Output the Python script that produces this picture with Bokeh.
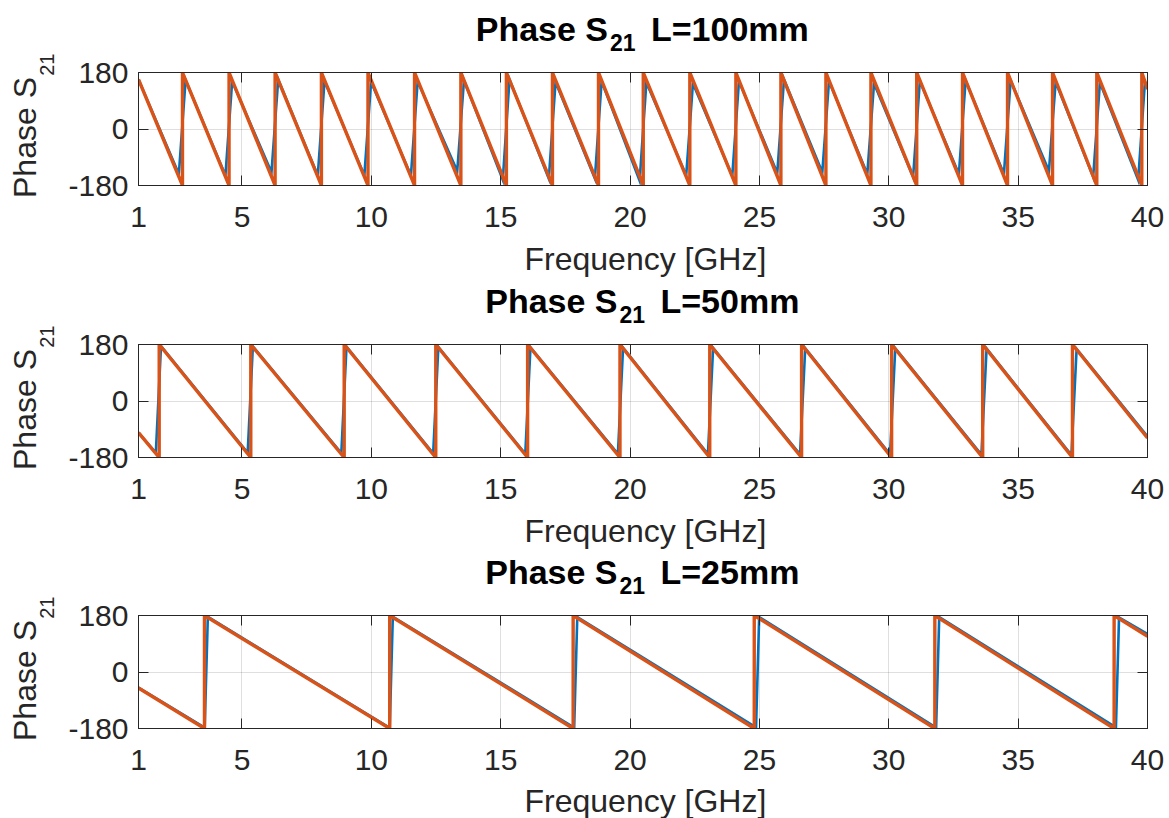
import math
from bokeh.plotting import figure
from bokeh.layouts import column, row
from bokeh.models import LinearAxis, FixedTicker, Range1d
from bokeh.core.properties import value
from bokeh.embed import file_html
from bokeh.resources import INLINE

# ---------------- data ----------------
freq_min, freq_max = 1, 40
x_ticks = [1, 5, 10, 15, 20, 25, 30, 35, 40]
x_tick_labels = ["1", "5", "10", "15", "20", "25", "30", "35", "40"]
y_ticks = [-180, 0, 180]
y_tick_labels = ["-180", "0", "180"]
x_label = "Frequency [GHz]"
y_label_main, y_label_sub = "Phase S", "21"
title_main, title_sub = "Phase S", "21"
line_lengths = ["L=100mm", "L=50mm", "L=25mm"]

# L = 100 mm
orange_start_100 = 158
orange_wraps_100 = [2.70, 4.50, 6.28, 8.07, 9.87, 11.67, 13.46, 15.22, 17.00, 18.78, 20.51,
                    22.31, 24.09, 25.83, 27.57, 29.31, 31.08, 32.85, 34.59, 36.33, 38.04, 39.78]
orange_end_100 = 127
blue_start_100 = 158
blue_jumps_100 = [2.69, 4.49, 6.27, 8.06, 9.86, 11.66, 13.45, 15.21, 16.99, 18.77, 20.50,
                  22.30, 24.08, 25.82, 27.56, 29.30, 31.07, 32.84, 34.58, 36.32, 38.03, 39.77]
blue_step_100 = 0.26
blue_lo_100 = [-143, -148, -138, -148, -148, -148, -134, -162, -158, -158, -165,
               -148, -150, -140, -138, -143, -153, -143, -143, -134, -153, -162]
blue_hi_100 = [156, 152, 158, 153, 150, 152, 155, 158, 150, 152, 148,
               145, 153, 158, 153, 145, 153, 155, 155, 150, 148, 150]
blue_end_100 = 130

# L = 50 mm
orange_start_50 = -101
orange_wraps_50 = [1.80, 5.34, 8.95, 12.49, 16.04, 19.61, 23.08, 26.63, 30.11, 33.63, 37.10]
orange_end_50 = -118
blue_start_50 = -101
blue_jumps_50 = [1.77, 5.32, 8.94, 12.49, 16.05, 19.63, 23.11, 26.67, 30.15, 33.68, 37.16]
blue_step_50 = 0.20
blue_lo_50 = [-165, -165, -166, -167, -168, -168, -169, -170, -170, -171, -172]
blue_hi_50 = [175, 174, 173, 172, 171, 170, 169, 168, 168, 167, 166]
blue_end_50 = -113

# L = 25 mm
orange_start_25 = -51
orange_wraps_25 = [3.55, 10.71, 17.80, 24.80, 31.78, 38.71]
orange_end_25 = 114
blue_start_25 = -50
blue_jumps_25 = [3.62, 10.77, 17.90, 24.93, 31.89, 38.84]
blue_step_25 = 0.12
blue_lo_25 = [-177, -178, -177, -176, -177, -176]
blue_hi_25 = [176, 176, 175, 175, 175, 174]
blue_end_25 = 121

# ---------------- styling / layout ----------------
FONT = "Liberation Sans"
AX = "#262626"
BLUE = "#0072BD"
ORANGE = "#D95319"
PAGE_W, PAGE_H = 1169, 818
YL_W = 60                       # left strip holding the rotated y labels
RIGHT_W = PAGE_W - YL_W
FRAME_H = 113
BL, BR, BT, BB = 138 - YL_W, 22, 17, 55
MAIN_H = BT + FRAME_H + BB
FRAME_TOPS = [72, 344, 615]
STRIP_H = [FRAME_TOPS[0] - BT,
           FRAME_TOPS[1] - BT - (FRAME_TOPS[0] - BT + MAIN_H),
           FRAME_TOPS[2] - BT - (FRAME_TOPS[1] - BT + MAIN_H)]
LAST_H = PAGE_H - (FRAME_TOPS[2] - BT + MAIN_H)
X0, X1 = YL_W + BL, PAGE_W - BR   # page x of frame edges (strips use page x)

# title pieces (page x): right edge of "Phase S", left of "21", left of "L=..."
title_x = [(607.5, 609.5, 650.5), (617.0, 619.0, 660.0), (617.0, 619.0, 660.0)]
xlabel_left = 524
xlabel_mid_below = [73, 73, 72]   # middle of x label below frame bottom
title_mid_above, sub_mid_above = 43.8, 30.0


def orange_path(start, wraps, end):
    xs, ys = [freq_min], [start]
    for w in wraps:
        xs += [w, w]
        ys += [y_ticks[0], y_ticks[-1]]
    xs.append(freq_max)
    ys.append(end)
    return xs, ys


def blue_path(start, jumps, step, lo, hi, end):
    xs, ys = [freq_min], [start]
    for c, l, h in zip(jumps, lo, hi):
        xs += [c - step / 2, c + step / 2]
        ys += [l, h]
    xs.append(freq_max)
    ys.append(end)
    return xs, ys


datasets = [
    (orange_path(orange_start_100, orange_wraps_100, orange_end_100),
     blue_path(blue_start_100, blue_jumps_100, blue_step_100, blue_lo_100, blue_hi_100, blue_end_100)),
    (orange_path(orange_start_50, orange_wraps_50, orange_end_50),
     blue_path(blue_start_50, blue_jumps_50, blue_step_50, blue_lo_50, blue_hi_50, blue_end_50)),
    (orange_path(orange_start_25, orange_wraps_25, orange_end_25),
     blue_path(blue_start_25, blue_jumps_25, blue_step_25, blue_lo_25, blue_hi_25, blue_end_25)),
]


def strip(width, height, x_range, bl=0, br=0):
    s = figure(width=width, height=height, output_backend="svg", toolbar_location=None,
               x_range=x_range, y_range=Range1d(0, height),
               x_axis_type=None, y_axis_type=None, title=None,
               min_border_left=bl, min_border_right=br, min_border_top=0, min_border_bottom=0,
               background_fill_color="white", border_fill_color="white")
    s.outline_line_color = None
    s.grid.visible = False
    return s


def put_text(s, x, y, txt, size, align, bold=False, color=AX, angle=0.0):
    s.text(x=[x], y=[y], text=[txt], angle=angle, text_align=align, text_baseline="middle",
           text_font=value(FONT), text_font_size=size,
           text_font_style="bold" if bold else "normal", text_color=color)


def style_axis(ax, ticks, labels, show_labels=True):
    ax.ticker = FixedTicker(ticks=ticks)
    ax.major_label_overrides = {t: l for t, l in zip(ticks, labels)}
    ax.axis_line_color = AX
    ax.axis_line_width = 1
    ax.major_tick_line_color = AX
    ax.major_tick_in = 10
    ax.major_tick_out = 0
    ax.minor_tick_line_color = None
    ax.major_label_text_font = FONT
    ax.major_label_text_color = AX
    if show_labels:
        ax.major_label_text_font_size = "30px"
    else:
        ax.major_label_text_font_size = "1px"
        ax.major_label_text_alpha = 0
        ax.major_label_standoff = 0


# ---- strips above the panels (x label of the panel above + title) ----
strips = []
for i in range(3):
    h = STRIP_H[i]
    s = strip(RIGHT_W, h, Range1d(X0, X1), bl=BL, br=BR)
    tx = title_x[i]
    put_text(s, tx[0], title_mid_above - BT, title_main, "34px", "right", bold=True, color="black")
    put_text(s, tx[1], sub_mid_above - BT, title_sub, "23px", "left", bold=True, color="black")
    put_text(s, tx[2], title_mid_above - BT, line_lengths[i], "34px", "left", bold=True, color="black")
    if i > 0:
        put_text(s, xlabel_left, h - (xlabel_mid_below[i - 1] - BB), x_label, "32px", "left")
    strips.append(s)
last = strip(RIGHT_W, LAST_H, Range1d(X0, X1), bl=BL, br=BR)
put_text(last, xlabel_left, LAST_H - (xlabel_mid_below[2] - BB), x_label, "32px", "left")

# ---- left strip with rotated y labels ----
yl = strip(YL_W, PAGE_H, Range1d(0, YL_W))
for ft in FRAME_TOPS:
    fc = ft + FRAME_H / 2.0
    put_text(yl, 24.4, PAGE_H - (fc + 8.5), y_label_main, "32px", "center", angle=math.pi / 2)
    put_text(yl, 46.1, PAGE_H - (fc - 64.3), y_label_sub, "20px", "center", angle=math.pi / 2)

# ---- main panels ----
mains = []
for i, ((ox, oy), (bx, by)) in enumerate(datasets):
    p = figure(width=RIGHT_W, height=MAIN_H, output_backend="svg", toolbar_location=None,
               x_range=Range1d(freq_min, freq_max), y_range=Range1d(y_ticks[0], y_ticks[-1]),
               min_border_left=BL, min_border_right=BR, min_border_top=BT, min_border_bottom=BB,
               background_fill_color="white", border_fill_color="white", title=None)
    p.outline_line_color = AX
    p.outline_line_width = 1

    for ax in p.xaxis:
        style_axis(ax, x_ticks, x_tick_labels)
        ax.major_label_standoff = 21
    for ax in p.yaxis:
        style_axis(ax, y_ticks, y_tick_labels)
        ax.major_label_standoff = 10

    top = LinearAxis()
    right = LinearAxis()
    p.add_layout(top, "above")
    p.add_layout(right, "right")
    style_axis(top, x_ticks, x_tick_labels, show_labels=False)
    style_axis(right, y_ticks, y_tick_labels, show_labels=False)

    p.xgrid.ticker = FixedTicker(ticks=x_ticks)
    p.ygrid.ticker = FixedTicker(ticks=y_ticks)
    p.grid.grid_line_color = AX
    p.grid.grid_line_alpha = 0.15
    p.grid.grid_line_width = 1

    p.line(bx, by, line_color=BLUE, line_width=2.6, line_join="miter")
    p.line(ox, oy, line_color=ORANGE, line_width=3.4, line_join="miter")
    mains.append(p)

right_col = column(strips[0], mains[0], strips[1], mains[1], strips[2], mains[2], last, spacing=0)
layout = row(yl, right_col, spacing=0)
open("out.html", "w").write(file_html(layout, INLINE))
